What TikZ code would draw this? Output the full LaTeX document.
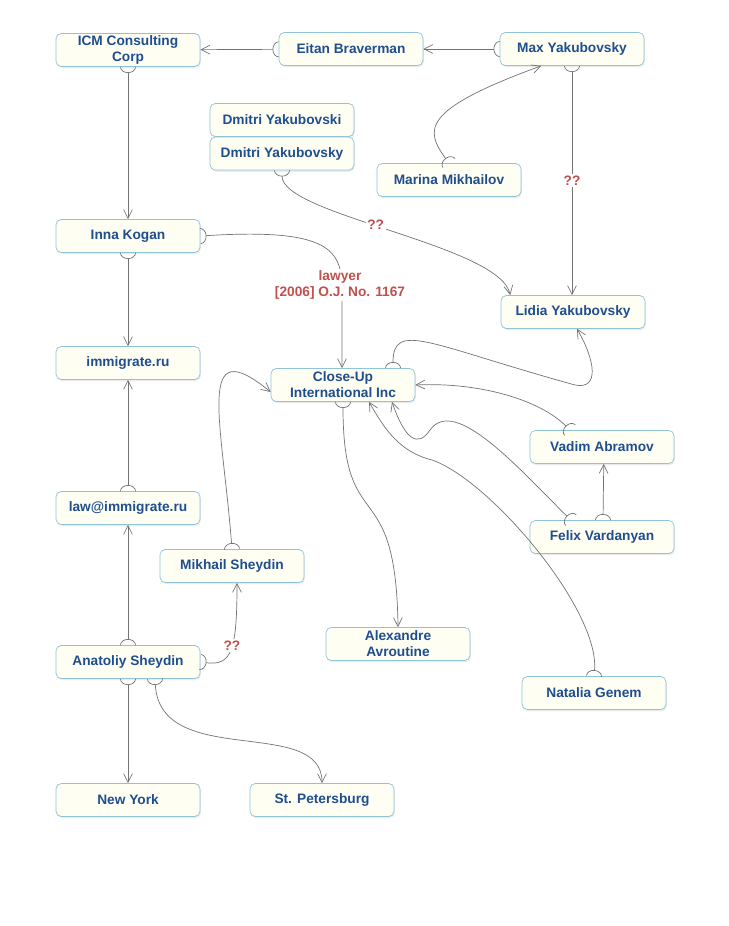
\documentclass[tikz,border=0pt]{standalone}
\usepackage{fontspec}
\setmainfont{Liberation Sans}
\usetikzlibrary{arrows.meta, shadows}
\definecolor{ink}{HTML}{1F4E8F}
\definecolor{rim}{HTML}{8EC3D8}
\definecolor{paper}{HTML}{FFFEF2}
\definecolor{note}{HTML}{C0504D}
\tikzset{
  who/.style={draw=rim, fill=paper, rounded corners=3pt, minimum width=2.88cm,
    minimum height=0.66cm, align=center, font=\bfseries\fontsize{7.8}{9}\selectfont,
    text=ink, drop shadow={opacity=0.15, shadow xshift=0.5pt, shadow yshift=-1pt}, inner sep=1pt},
  link/.style={draw=gray!90!black, thin,
    {Arc Barb[reversed, length=3.5pt, width=9pt]}-{Straight Barb[length=5pt, width=5pt]}},
  tag/.style={text=note, font=\bfseries\fontsize{7.8}{9.5}\selectfont, fill=white, align=center, inner sep=1pt}
}
\begin{document}
\begin{tikzpicture}[x=0.02cm, y=-0.02cm]
    \useasboundingbox (0,0) rectangle (728,926);

    % People and firms
    \node[who] (icm) at (128,50) {ICM Consulting\\Corp};
    \node[who] (eitan) at (351,49) {Eitan Braverman};
    \node[who] (max) at (572,49) {Max Yakubovsky};
    \node[who] (dmitri) at (282,120) {Dmitri Yakubovski};
    \node[who] (dmitry) at (282,153.5) {Dmitri Yakubovsky};
    \node[who] (marina) at (449,180) {Marina Mikhailov};
    \node[who] (inna) at (128,236) {Inna Kogan};
    \node[who] (lidia) at (573,312) {Lidia Yakubovsky};
    \node[who] (immig) at (128,363) {immigrate.ru};
    \node[who] (closeup) at (343,385) {Close-Up\\International Inc};
    \node[who] (vadim) at (602,447) {Vadim Abramov};
    \node[who] (law) at (128,508) {law@immigrate.ru};
    \node[who] (felix) at (602,537) {Felix Vardanyan};
    \node[who] (mikhail) at (232,566) {Mikhail Sheydin};
    \node[who] (alex) at (398,644) {Alexandre\\Avroutine};
    \node[who] (anatoliy) at (128,662) {Anatoliy Sheydin};
    \node[who] (natalia) at (594,693) {Natalia Genem};
    \node[who] (ny) at (128,800) {New York};
    \node[who] (spb) at (322,800) {St. Petersburg};

    % Straight links
    \draw[link] (eitan) -- (icm);
    \draw[link] (max) -- (eitan);
    \draw[link] (icm) -- (inna);
    \draw[link] (inna) -- (immig);
    \draw[link] (law) -- (immig);
    \draw[link] (anatoliy) -- (law);
    \draw[link] (anatoliy) -- (ny);
    \draw[link] (felix.north -| vadim.south) ++(1,0) -- ([xshift=1pt]vadim.south);
    \draw[link] (max) -- node[tag] {??} (lidia.north -| max.south);

    % Curved links
    \draw[link] (marina.north) .. controls (425,130) and (420,110) .. ([xshift=-25pt*0.7]max.south);
    \draw[link] (dmitry.south) .. controls (282,215) and (500,245) .. ([xshift=-51pt*0.7]lidia.north)
        node[pos=0.45, tag] {??};
    \draw[link] (inna.east) .. controls (330,228) and (342,250) .. (342,290) -- (closeup.north -| 342,0);
    \node[tag] (lawyer) at (340,285) {lawyer\\{[2006]} O.J. No. 1167};
    \draw[link] (anatoliy.south -| 155,0) .. controls (160,770) and (322,715) .. (spb.north);
    \draw[link] (anatoliy.east) .. controls (232,666) and (237,650) .. (mikhail.south -| 237,0)
        node[pos=0.55, tag] {??};
    \draw[link] (mikhail.north) .. controls (222,420) and (195,330) .. ([yshift=-4pt]closeup.west);
    \draw[link] (closeup.north -| 393,0) .. controls (393,320) and (430,345) .. (575,385)
        .. controls (600,390) and (595,360) .. (lidia.south -| 577,0);
    \draw[link] (vadim.north -| 570,0) .. controls (540,400) and (480,382) .. (closeup.east);
    \draw[link] (felix.north -| 571,0) .. controls (520,470) and (455,395) .. (430,430)
        .. controls (418,448) and (405,440) .. (closeup.south -| 392,0);
    \draw[link] (natalia.north) .. controls (600,610) and (490,480) .. (432,460)
        .. controls (400,452) and (385,430) .. (closeup.south -| 369,0);
    \draw[link] (closeup.south) .. controls (343,540) and (396,470) .. (alex.north -| 398,0);
\end{tikzpicture}
\end{document}
